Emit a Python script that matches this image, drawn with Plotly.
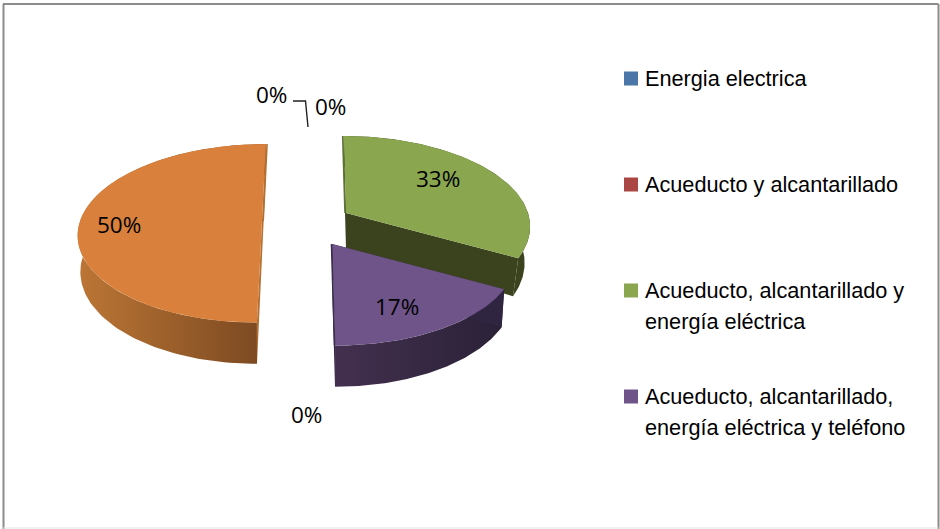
import numpy as np
import plotly.graph_objects as go

# --- data ---
categories = ["Energia electrica", "Acueducto y alcantarillado",
              "Acueducto, alcantarillado y energía eléctrica",
              "Acueducto, alcantarillado, energía eléctrica y teléfono", "Otros"]
shares = [0, 0, 33, 17, 50]
legend_lines = [["Energia electrica"], ["Acueducto y alcantarillado"],
                ["Acueducto, alcantarillado y", "energía eléctrica"],
                ["Acueducto, alcantarillado,", "energía eléctrica y teléfono"]]
legend_colors = ["#4A76A8", "#AA4643", "#8AA64F", "#6F5489"]

# --- drawing style / layout ---
R, RB, K, DEPTH = 182, 87.6, 0.138, 35.5
style = {
    2: dict(apex=(346, 213), skew=0.03, lower=0.97, top="#8AA64F", rim=("#3A431E", "#3A431E"), cut="#3A431E", edge="#5F7236"),
    3: dict(apex=(332, 244), skew=0.03, lower=0.985, top="#6F5489", rim=("#43304F", "#2A2137"), cut="#2F2540", edge="#3D2F4E"),
    4: dict(apex=(262, 221), skew=-0.05, lower=0.985, top="#D8803C", rim=("#BC7635", "#7A4821"), cut="#B56F30", edge="#B56F30"),
}
legend_y = [78, 184, 290, 396]
LINE_GAP = 31
pct_labels = [(271, 94, "0%"), (330, 106, "0%"), (438, 178, "33%"),
              (119, 224, "50%"), (397, 306, "17%"), (306, 414, "0%")]


def proj(theta_deg, st):
    t = np.radians(theta_deg)
    p = 1 / (1 + K * np.cos(t))
    dx, dy = R * np.sin(t) * p, -RB * np.cos(t) * p
    return st["apex"][0] + dx + st["skew"] * dy, st["apex"][1] + dy, p


def lower(x, y, p, st):
    return st["apex"][0] + (x - st["apex"][0]) * st["lower"], y + DEPTH * p


fig = go.Figure()
start = 0.0
wedges = []
for i, v in enumerate(shares):
    end = start + v * 3.6
    if v > 0:
        wedges.append((i, start, end))
    start = end

for i, a, b in wedges:
    st = style[i]
    th = np.linspace(a, b, 120)
    x, y, p = proj(th, st)
    xl, yl = lower(x, y, p, st)
    ax, ay = st["apex"]
    # rim
    fig.add_trace(go.Scatter(x=np.r_[x, xl[::-1]], y=np.r_[y, yl[::-1]], mode="lines",
                             line=dict(width=0), fill="toself",
                             fillgradient=dict(type="horizontal",
                                               colorscale=[[0, st["rim"][0]], [1, st["rim"][1]]]),
                             hoverinfo="skip", showlegend=False))
    # cut faces
    for k in (-1, 0):
        fig.add_trace(go.Scatter(x=[ax, x[k], xl[k], ax], y=[ay, y[k], yl[k], ay + DEPTH],
                                 mode="lines", line=dict(width=0), fill="toself",
                                 fillcolor=st["cut"], hoverinfo="skip", showlegend=False))
    # top face
    fig.add_trace(go.Scatter(x=np.r_[ax, x, ax], y=np.r_[ay, y, ay], mode="lines",
                             line=dict(width=0), fill="toself", fillcolor=st["top"],
                             name=categories[i], hoverinfo="name", showlegend=False))

# thin straight edges seen on the cut sides
edge_pairs = {2: (-1.0, 0), 3: (-0.5, 180), 4: (1.2, 360)}
for i, (off, ang) in edge_pairs.items():
    st = style[i]
    xe, ye, _ = proj(ang, st)
    fig.add_trace(go.Scatter(x=[st["apex"][0] + off, xe + off], y=[st["apex"][1], ye], mode="lines",
                             line=dict(width=1.6, color=st["edge"]), hoverinfo="skip", showlegend=False))

# leader line
fig.add_trace(go.Scatter(x=[293, 305.5, 308], y=[101, 101, 127], mode="lines",
                         line=dict(width=1.4, color="#222222"), hoverinfo="skip", showlegend=False))

# legend swatches
fig.add_trace(go.Scatter(x=[631] * 4, y=[v + 0.5 for v in legend_y], mode="markers",
                         marker=dict(symbol="square", size=14, color=legend_colors, line=dict(width=0)),
                         hoverinfo="skip", showlegend=False))

ann = []
for px, py, t in pct_labels:
    ann.append(dict(x=px, y=py, text=t, showarrow=False, xanchor="center", yanchor="middle",
                    font=dict(family="Open Sans", size=22.5, color="#000000")))
for y0, lines in zip(legend_y, legend_lines):
    for j, t in enumerate(lines):
        ann.append(dict(x=642.5, y=y0 + j * LINE_GAP, text=t, showarrow=False, xanchor="left", yanchor="middle",
                        font=dict(family="Liberation Sans", size=21.7, color="#000000")))

border = [(3.5, 4, 3.5, 529, "#8C8C8C", 2), (3, 4, 938.5, 4, "#8C8C8C", 2),
          (938.5, 4, 938.5, 529, "#8C8C8C", 2), (3, 528, 938.5, 528, "#E4E4E4", 1)]
shapes = [dict(type="line", x0=a, y0=b, x1=c, y1=d, line=dict(color=col, width=w))
          for a, b, c, d, col, w in border]

fig.update_layout(width=940, height=529, margin=dict(l=0, r=0, t=0, b=0),
                  paper_bgcolor="white", plot_bgcolor="white", showlegend=False,
                  xaxis=dict(range=[0, 940], visible=False, fixedrange=True),
                  yaxis=dict(range=[529, 0], visible=False, fixedrange=True),
                  annotations=ann, shapes=shapes)
fig.write_html("out.html", config={"displayModeBar": False},
               post_script="document.body.style.margin='0';")
